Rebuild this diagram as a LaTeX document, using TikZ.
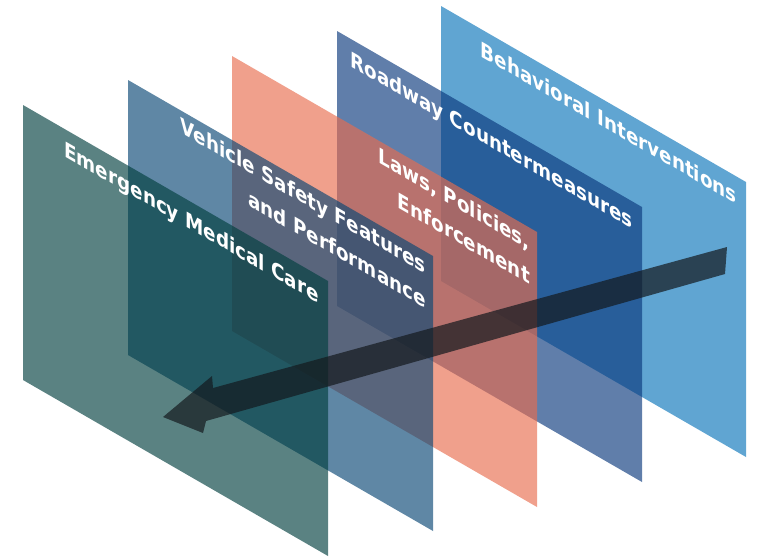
\documentclass[tikz,border=0pt]{standalone}
\usepackage{fontspec}
\setmainfont{DejaVu Sans}
\usepackage{tikz}
\usetikzlibrary{positioning}

\definecolor{emergteal}{RGB}{2,63,63}
\definecolor{vehicleblue}{RGB}{9,71,117}
\definecolor{lawsalmon}{RGB}{232,109,78}
\definecolor{roadnavy}{RGB}{11,57,125}
\definecolor{behavblue}{RGB}{10,117,186}
\definecolor{arrowgray}{RGB}{20,25,30}

\begin{document}
\begin{tikzpicture}
  [
    x=1pt, y=-1pt,
    Plane/.style={fill opacity=0.65},
    % text lies flat on a plane: x along the top edge, y stays upright
    Caption/.style={text=white, font=\fontsize{21.2}{34}\selectfont\bfseries,
      align=right, inner sep=0pt, anchor=north east, cm={0.866,-0.5,0,1,(0,0)}},
    Pointer/.style={fill=arrowgray, fill opacity=0.7}
  ]
  \useasboundingbox (0,0) rectangle (757,558);

  % Corners (top left of each plane)
  \coordinate (p5) at (441,6);
  \coordinate (p4) at (337,31);
  \coordinate (p3) at (232,56);
  \coordinate (p2) at (128,80);
  \coordinate (p1) at (23,105);

  % Planes, back to front
  \path [Plane, fill=behavblue]   (p5) -- ++(305,176) -- ++(0,275) -- ++(-305,-176) -- cycle;
  \path [Plane, fill=roadnavy]    (p4) -- ++(305,176) -- ++(0,275) -- ++(-305,-176) -- cycle;
  \path [Plane, fill=lawsalmon]   (p3) -- ++(305,176) -- ++(0,275) -- ++(-305,-176) -- cycle;
  \path [Plane, fill=vehicleblue] (p2) -- ++(305,176) -- ++(0,275) -- ++(-305,-176) -- cycle;
  \path [Plane, fill=emergteal]   (p1) -- ++(305,176) -- ++(0,275) -- ++(-305,-176) -- cycle;

  % Arrow through the planes
  \path [Pointer] (727,247) -- (213,388) -- (212,376) -- (163,417) -- (203,433)
    -- (206,421) -- (725,274) -- cycle;

  % Labels
  \node[Caption] (behav) at ([shift={(296,182)}]p5) {Behavioral Interventions};
  \node[Caption] (road)  at ([shift={(296,182)}]p4) {Roadway Countermeasures};
  \node[Caption] (laws)  at ([shift={(298,178)}]p3) {Laws, Policies,\\Enforcement};
  \node[Caption] (vehicle) at ([shift={(298,178)}]p2) {Vehicle Safety Features\\and Performance};
  \node[Caption] (emerg) at ([shift={(296,182)}]p1) {Emergency Medical Care};

\end{tikzpicture}
\end{document}
